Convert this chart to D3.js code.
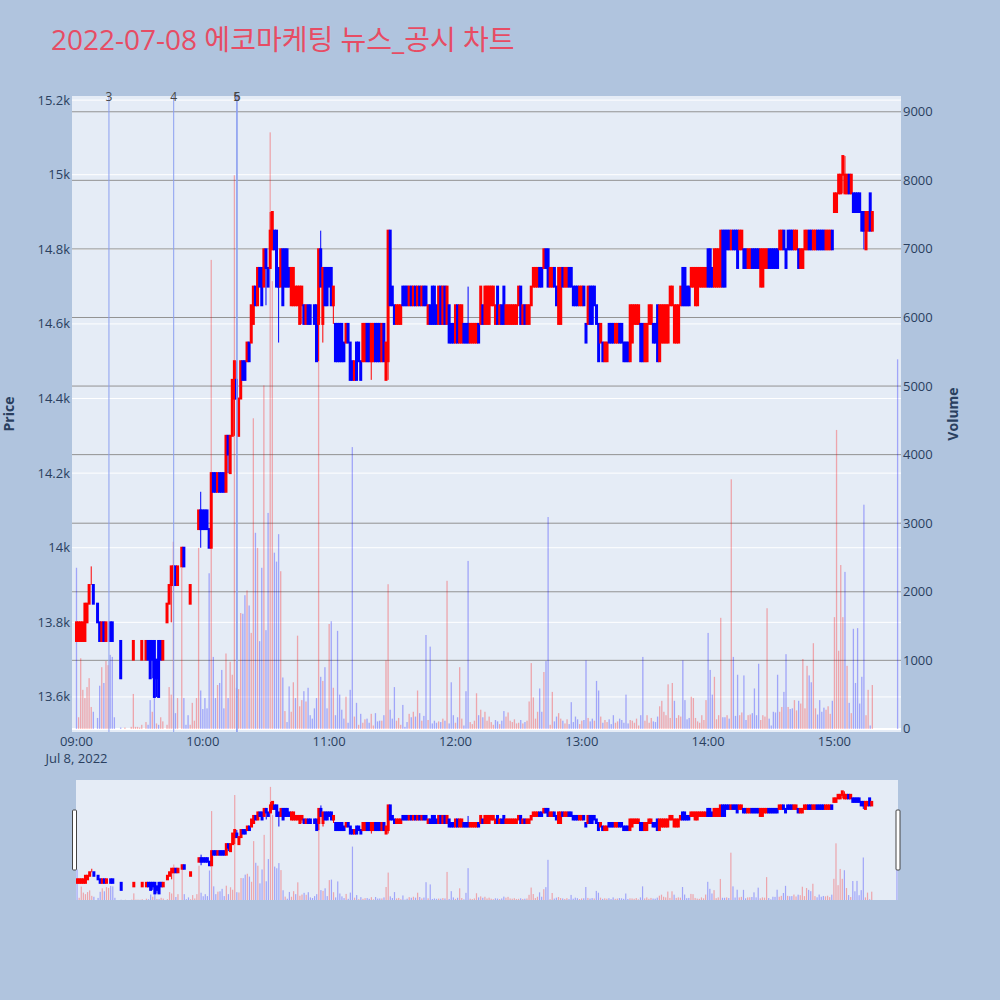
<!DOCTYPE html>
<html>
<head>
<meta charset="utf-8">
<title>2022-07-08 에코마케팅 뉴스_공시 차트</title>
<script src="https://d3js.org/d3.v7.min.js"></script>
<style>
body { margin: 0; background: #b0c4de; }
svg text { font-family: "Open Sans", "Noto Sans CJK KR", sans-serif; fill: #2a3f5f; }
</style>
</head>
<body>
<script>

var tradeDate = "2022-07-08";
var chartTitle = "2022-07-08 에코마케팅 뉴스_공시 차트";

// minutes after 09:00 that have a 1-minute candle
var minutes = [
  0,1,2,3,4,5,6,7,8,
  10,11,12,13,14,15,16,17,18,
  21,23,
  26,27,28,29,30,31,
  33,34,35,36,37,38,39,40,41,
  43,44,45,46,47,48,
  50,51,52,53,54,55,56,57,58,59,
  60,61,62,63,64,65,66,67,68,69,
  70,71,72,73,74,75,76,77,78,79,
  80,81,82,83,84,85,86,87,88,89,
  90,91,92,93,94,95,96,97,98,99,
  100,101,102,103,104,105,106,107,108,109,
  110,111,112,113,114,115,116,117,118,119,
  120,121,122,123,124,125,126,127,128,129,
  130,131,132,133,134,135,136,137,138,139,
  140,141,142,143,144,145,146,147,148,149,
  150,151,152,153,154,155,156,157,158,159,
  160,161,162,163,164,165,166,167,168,169,
  170,171,172,173,174,175,176,177,178,179,
  180,181,182,183,184,185,186,187,188,189,
  190,191,192,193,194,195,196,197,198,199,
  200,201,202,203,204,205,206,207,208,209,
  210,211,212,213,214,215,216,217,218,219,
  220,221,222,223,224,225,226,227,228,229,
  230,231,232,233,234,235,236,237,238,239,
  240,241,242,243,244,245,246,247,248,249,
  250,251,252,253,254,255,256,257,258,259,
  260,261,262,263,264,265,266,267,268,269,
  270,271,272,273,274,275,276,277,278,279,
  280,281,282,283,284,285,286,287,288,289,
  290,291,292,293,294,295,296,297,298,299,
  300,301,302,303,304,305,306,307,308,309,
  310,311,312,313,314,315,316,317,318,319,
  320,321,322,323,324,325,326,327,328,329,
  330,331,332,333,334,335,336,337,338,339,
  340,341,342,343,344,345,346,347,348,349,
  350,351,352,353,354,355,356,357,358,359,
  360,361,362,363,364,365,366,367,368,369,
  370,371,372,373,374,375,376,377,378,
  390
];

var opens = [
  13750,13750,13750,13750,13750,13800,13850,13900,13900,
  13850,13800,13750,13800,13750,13800,13800,13800,13700,
  13750,13750,
  13750,13700,13750,13750,13750,13700,
  13700,13750,13750,13750,13750,13700,13750,13750,13700,
  13800,13850,13900,13900,13950,13900,
  13950,14000,13950,13900,13850,13900,13950,14000,14050,14100,
  14100,14100,14100,14050,14000,14200,14200,14150,14200,14200,
  14200,14150,14300,14200,14300,14400,14450,14300,14400,14500,
  14500,14500,14550,14550,14600,14700,14650,14750,14750,14700,
  14800,14750,14750,14800,14850,14850,14750,14700,14800,14800,
  14800,14750,14650,14650,14650,14650,14600,14650,14650,14600,
  14650,14650,14600,14650,14650,14600,14800,14600,14750,14750,
  14750,14750,14650,14600,14600,14600,14600,14550,14550,14600,
  14550,14500,14450,14550,14550,14500,14500,14500,14600,14600,
  14500,14500,14600,14600,14600,14500,14600,14450,14500,14850,
  14700,14650,14600,14600,14600,14700,14700,14700,14650,14700,
  14650,14700,14650,14700,14650,14700,14700,14600,14650,14700,
  14700,14650,14600,14700,14600,14700,14600,14650,14600,14600,
  14550,14650,14550,14550,14600,14600,14600,14550,14550,14550,
  14550,14600,14600,14650,14600,14600,14600,14650,14650,14600,
  14700,14600,14650,14700,14600,14600,14600,14600,14600,14600,
  14650,14700,14600,14650,14600,14600,14650,14700,14700,14700,
  14750,14750,14750,14800,14800,14700,14700,14750,14700,14600,
  14600,14750,14700,14700,14750,14750,14700,14700,14700,14650,
  14650,14700,14600,14600,14700,14700,14700,14650,14600,14550,
  14550,14500,14500,14600,14600,14600,14550,14550,14600,14600,
  14550,14550,14550,14500,14550,14600,14600,14600,14600,14600,
  14500,14500,14600,14600,14600,14600,14650,14500,14550,14550,
  14550,14550,14650,14650,14550,14550,14550,14650,14750,14750,
  14700,14700,14700,14700,14650,14650,14700,14700,14700,14700,
  14800,14800,14750,14700,14700,14700,14700,14850,14850,14850,
  14850,14800,14850,14850,14850,14800,14800,14800,14800,14750,
  14750,14800,14800,14800,14800,14700,14700,14750,14750,14800,
  14800,14800,14800,14800,14800,14800,14850,14800,14850,14850,
  14850,14800,14800,14800,14750,14750,14800,14800,14850,14850,
  14800,14800,14850,14850,14850,14850,14800,14800,14800,14850,
  14900,14900,14950,14950,15000,14950,14950,15000,14950,14950,
  14950,14950,14950,14900,14900,14800,14850,14950,14850,
  14800
];

var highs = [
  13800,13800,13800,13800,13850,13850,13900,13950,13900,
  13850,13800,13800,13800,13800,13800,13800,13800,13700,
  13750,13750,
  13750,13750,13750,13750,13750,13750,
  13750,13750,13750,13750,13750,13700,13750,13750,13750,
  13850,13900,13950,13950,13950,13950,
  14000,14000,13950,13900,13900,13900,13950,14000,14100,14150,
  14100,14100,14100,14050,14200,14200,14200,14200,14200,14200,
  14200,14300,14300,14300,14450,14500,14500,14400,14500,14500,
  14500,14550,14550,14650,14700,14700,14750,14750,14750,14800,
  14800,14750,14900,14900,14850,14850,14750,14800,14800,14800,
  14800,14750,14750,14750,14700,14700,14700,14700,14650,14650,
  14650,14650,14600,14650,14650,14800,14850,14750,14750,14750,
  14750,14750,14700,14600,14600,14600,14600,14550,14600,14600,
  14550,14500,14500,14550,14550,14500,14600,14600,14600,14600,
  14600,14600,14600,14600,14600,14600,14600,14550,14850,14850,
  14700,14650,14650,14650,14650,14700,14700,14700,14700,14700,
  14700,14700,14700,14700,14700,14700,14700,14650,14650,14700,
  14700,14650,14700,14700,14700,14700,14700,14650,14600,14600,
  14650,14650,14650,14650,14600,14600,14700,14600,14600,14600,
  14600,14600,14700,14650,14700,14700,14700,14700,14700,14650,
  14700,14650,14650,14700,14650,14650,14650,14650,14650,14650,
  14700,14700,14650,14650,14650,14650,14700,14750,14750,14750,
  14750,14750,14800,14800,14800,14750,14750,14750,14700,14750,
  14750,14750,14750,14750,14750,14750,14700,14700,14700,14700,
  14700,14700,14600,14700,14700,14700,14700,14650,14600,14600,
  14550,14550,14550,14600,14600,14600,14600,14600,14600,14600,
  14550,14550,14550,14650,14650,14650,14650,14650,14600,14600,
  14600,14600,14650,14650,14600,14600,14650,14650,14650,14650,
  14650,14650,14700,14700,14650,14650,14650,14700,14750,14750,
  14700,14700,14750,14750,14750,14750,14750,14750,14750,14750,
  14800,14800,14750,14800,14800,14800,14850,14850,14850,14850,
  14850,14850,14850,14850,14850,14850,14850,14800,14800,14800,
  14800,14800,14800,14800,14800,14800,14800,14800,14800,14800,
  14800,14800,14800,14800,14850,14850,14850,14800,14850,14850,
  14850,14850,14850,14800,14800,14800,14850,14850,14850,14850,
  14850,14850,14850,14850,14850,14850,14850,14850,14850,14850,
  14950,14950,15000,15000,15050,15050,15000,15000,15000,14950,
  14950,14950,14950,14900,14900,14900,14900,14950,14900,
  14800
];

var lows = [
  13750,13750,13750,13750,13750,13800,13850,13900,13850,
  13800,13750,13750,13750,13750,13800,13750,13750,13700,
  13650,13750,
  13750,13700,13750,13750,13750,13700,
  13700,13700,13650,13650,13600,13600,13600,13700,13700,
  13800,13850,13800,13900,13900,13900,
  13950,13950,13950,13900,13850,13900,13950,14000,14050,14000,
  14050,14050,14050,14000,14000,14150,14150,14150,14150,14150,
  14150,14150,14200,14200,14300,14300,14400,14300,14400,14450,
  14450,14500,14500,14550,14600,14650,14650,14700,14650,14700,
  14650,14700,14750,14800,14800,14700,14550,14700,14650,14700,
  14700,14700,14650,14650,14650,14650,14600,14600,14600,14600,
  14600,14600,14600,14600,14500,14500,14700,14550,14650,14650,
  14700,14650,14600,14500,14500,14500,14500,14500,14550,14550,
  14450,14450,14450,14450,14500,14450,14500,14500,14500,14500,
  14450,14500,14500,14500,14500,14500,14500,14450,14450,14650,
  14650,14600,14600,14600,14600,14650,14650,14650,14650,14650,
  14650,14650,14650,14650,14650,14650,14650,14600,14600,14600,
  14600,14600,14600,14600,14600,14600,14600,14550,14550,14550,
  14550,14550,14550,14550,14550,14550,14550,14550,14550,14550,
  14550,14550,14600,14600,14600,14600,14600,14650,14650,14600,
  14600,14600,14600,14600,14600,14600,14600,14600,14600,14600,
  14650,14600,14600,14600,14600,14600,14650,14700,14700,14700,
  14700,14700,14750,14750,14700,14700,14700,14700,14650,14600,
  14600,14700,14700,14700,14700,14700,14650,14650,14650,14650,
  14650,14650,14550,14600,14600,14600,14650,14600,14500,14550,
  14500,14500,14500,14550,14550,14550,14550,14550,14550,14550,
  14500,14500,14500,14500,14550,14600,14600,14600,14500,14500,
  14500,14500,14600,14600,14550,14550,14500,14500,14550,14550,
  14550,14550,14650,14650,14550,14550,14550,14650,14650,14650,
  14650,14650,14700,14700,14650,14650,14700,14700,14700,14700,
  14700,14700,14700,14700,14700,14700,14700,14700,14700,14800,
  14800,14800,14800,14800,14750,14800,14800,14750,14750,14750,
  14750,14750,14750,14750,14750,14700,14700,14750,14750,14750,
  14750,14750,14750,14750,14800,14800,14800,14750,14800,14800,
  14800,14800,14800,14750,14750,14750,14800,14800,14800,14800,
  14800,14800,14800,14800,14800,14800,14800,14800,14800,14800,
  14900,14900,14950,14950,14950,14950,14950,14950,14950,14900,
  14900,14900,14900,14850,14800,14800,14850,14850,14850,
  14800
];

var closes = [
  13800,13800,13800,13800,13850,13850,13900,13900,13850,
  13800,13750,13800,13750,13800,13800,13750,13750,13700,
  13650,13750,
  13750,13750,13750,13750,13750,13750,
  13750,13700,13650,13700,13600,13650,13600,13700,13750,
  13850,13900,13950,13950,13900,13950,
  14000,13950,13950,13900,13900,13900,13950,14000,14100,14050,
  14050,14050,14050,14000,14200,14150,14150,14200,14150,14150,
  14150,14300,14250,14300,14450,14500,14400,14400,14500,14450,
  14450,14550,14500,14650,14700,14650,14750,14700,14650,14800,
  14750,14700,14850,14900,14800,14700,14700,14800,14650,14700,
  14700,14700,14750,14750,14700,14700,14700,14700,14600,14650,
  14600,14600,14600,14600,14500,14800,14700,14750,14650,14650,
  14700,14650,14700,14500,14500,14500,14500,14500,14600,14550,
  14450,14450,14500,14450,14500,14450,14600,14600,14500,14500,
  14600,14600,14500,14500,14500,14600,14500,14550,14850,14650,
  14650,14600,14650,14650,14650,14650,14650,14650,14700,14650,
  14700,14650,14700,14650,14700,14650,14650,14650,14600,14600,
  14600,14600,14700,14600,14700,14600,14700,14550,14550,14550,
  14650,14550,14650,14650,14550,14550,14550,14600,14600,14600,
  14600,14550,14700,14600,14700,14700,14700,14700,14700,14650,
  14600,14650,14600,14600,14650,14650,14650,14650,14650,14650,
  14700,14600,14650,14600,14650,14650,14700,14750,14750,14750,
  14700,14700,14800,14750,14700,14750,14750,14700,14650,14750,
  14750,14700,14750,14750,14700,14700,14650,14650,14650,14700,
  14700,14650,14550,14700,14600,14600,14650,14600,14500,14600,
  14500,14550,14550,14550,14550,14550,14600,14600,14550,14550,
  14500,14500,14500,14650,14650,14650,14650,14650,14500,14500,
  14600,14600,14650,14650,14550,14550,14500,14650,14650,14650,
  14650,14650,14700,14700,14650,14650,14650,14700,14650,14650,
  14650,14650,14750,14750,14750,14750,14750,14750,14750,14750,
  14700,14700,14700,14800,14800,14800,14850,14700,14700,14800,
  14800,14850,14800,14800,14750,14850,14850,14750,14750,14800,
  14800,14750,14750,14750,14750,14800,14800,14800,14800,14750,
  14750,14750,14750,14750,14850,14850,14800,14750,14800,14800,
  14800,14850,14850,14750,14800,14800,14850,14850,14800,14800,
  14850,14850,14800,14800,14800,14800,14850,14850,14850,14800,
  14950,14950,15000,15000,15050,15000,15000,14950,15000,14900,
  14900,14900,14900,14850,14850,14900,14900,14850,14900,
  14800
];

var volumes = [
  2350,170,1030,570,450,610,740,320,250,
  160,630,900,670,990,930,1080,1050,170,
  20,20,
  30,510,30,30,20,60,
  100,60,420,250,450,80,60,170,110,
  60,610,500,2730,230,450,
  2350,450,60,200,60,380,120,450,2640,560,
  290,450,300,2270,6840,1050,450,640,670,860,
  300,1100,450,980,790,8075,600,580,1690,1680,
  1950,2020,1800,1400,4530,2860,2640,1280,2350,5010,
  1440,3150,8700,6530,2570,2440,2840,2300,750,260,
  100,620,250,680,450,1360,330,420,550,400,
  600,200,150,300,450,6250,760,700,900,300,
  1530,1570,600,200,1430,500,280,150,470,90,
  570,4110,180,380,60,220,90,140,150,90,
  220,50,230,110,120,120,200,1000,2110,280,
  150,610,120,160,60,350,30,100,220,170,
  250,180,560,230,120,190,1370,130,1200,80,
  120,90,110,100,150,120,2160,80,680,200,
  90,170,900,150,50,550,2450,100,70,120,
  520,200,280,170,250,120,180,100,60,130,
  110,70,120,260,180,240,120,100,140,80,
  90,130,80,100,120,400,960,460,150,250,
  590,250,830,990,3090,60,540,110,180,230,
  150,120,80,140,70,390,100,180,140,70,
  120,130,1000,160,110,150,120,700,560,180,
  90,130,100,140,70,200,90,110,150,130,
  90,500,80,130,120,90,150,50,200,1050,
  120,200,90,160,110,100,180,330,410,250,
  200,650,160,670,410,160,200,180,1000,420,
  140,160,470,450,160,110,90,200,130,420,
  1400,860,500,760,140,200,1620,170,170,200,
  150,3640,1050,190,790,200,240,780,130,200,
  210,230,590,200,950,130,200,180,1760,150,
  50,250,240,790,250,320,540,1090,320,290,
  300,420,270,410,370,1020,300,920,780,680,
  1250,300,210,420,250,310,280,330,220,410,
  1630,4360,1140,2390,1630,2290,920,380,230,1460,
  670,1470,370,760,3270,200,570,50,640,
  5390
];

// news / disclosure markers
var newsTimes = ["09:15:25", "09:46:10", "10:16:05", "10:16:20"];
var newsLabels = ["3", "4", "5", "6"];

var priceTicks = [13600, 13800, 14000, 14200, 14400, 14600, 14800, 15000, 15200];
var volumeTicks = [0, 1000, 2000, 3000, 4000, 5000, 6000, 7000, 8000, 9000];
var hourTicks = ["09:00", "10:00", "11:00", "12:00", "13:00", "14:00", "15:00"];

var width = 1000, height = 1000;
var plotL = 72, plotR = 901, plotT = 96, plotB = 732;
var sliderL = 76, sliderR = 898, sliderT = 780, sliderB = 900;
var upColor = "#ff0000", downColor = "#0000ff";

var parseClock = d3.timeParse("%Y-%m-%d %H:%M:%S");
function at(clock) { return parseClock(tradeDate + " " + clock); }
var open0900 = at("09:00:00");

var rows = minutes.map(function(m, i) {
  return { t: d3.timeMinute.offset(open0900, m), o: opens[i], h: highs[i], l: lows[i], c: closes[i], v: volumes[i] };
});
rows.forEach(function(d, i) {
  var prev = rows[i - 1];
  if (d.c > d.o) d.up = true;
  else if (d.c < d.o) d.up = false;
  else d.up = prev ? (d.c === prev.c ? prev.up : d.c > prev.c) : true;
  // volume colour follows the change against the previous close
  d.volUp = prev ? (d.c === prev.c ? d.up : d.c > prev.c) : false;
});

var x = d3.scaleTime().domain([at("08:57:52"), at("15:31:37")]).range([plotL, plotR]);
var yPrice = d3.scaleLinear().domain([13506, 15211]).range([plotB, plotT]);
var yVol = d3.scaleLinear().domain([-45, 9230]).range([plotB, plotT]);

var xs = d3.scaleTime().domain([at("08:59:30"), at("15:30:30")]).range([sliderL, sliderR]);
var ysPrice = d3.scaleLinear().domain(yPrice.domain()).range([sliderB, sliderT]);
var ysVol = d3.scaleLinear().domain([0, 9230]).range([sliderB, sliderT]);

var svg = d3.select("body").append("svg")
    .attr("width", width)
    .attr("height", height);

svg.append("rect").attr("width", width).attr("height", height).attr("fill", "#b0c4de");

var defs = svg.append("defs");
defs.append("clipPath").attr("id", "clipMain").append("rect")
    .attr("x", plotL).attr("y", plotT).attr("width", plotR - plotL).attr("height", plotB - plotT);
defs.append("clipPath").attr("id", "clipSlider").append("rect")
    .attr("x", sliderL).attr("y", sliderT).attr("width", sliderR - sliderL).attr("height", sliderB - sliderT);

// plot background
svg.append("rect").attr("x", plotL).attr("y", plotT)
    .attr("width", plotR - plotL).attr("height", plotB - plotT)
    .attr("fill", "#e5ecf6");

// price grid (white)
svg.append("g").selectAll("line").data(priceTicks).join("line")
    .attr("x1", plotL).attr("x2", plotR)
    .attr("y1", function(d) { return yPrice(d); }).attr("y2", function(d) { return yPrice(d); })
    .attr("stroke", "#ffffff").attr("stroke-width", 1);

// volume grid (grey)
svg.append("g").selectAll("line").data(volumeTicks.filter(function(d) { return d > 0; })).join("line")
    .attr("x1", plotL).attr("x2", plotR)
    .attr("y1", function(d) { return yVol(d); }).attr("y2", function(d) { return yVol(d); })
    .attr("stroke", "#929292").attr("stroke-width", 1);

svg.append("line")
    .attr("x1", plotL).attr("x2", plotR)
    .attr("y1", yVol(0)).attr("y2", yVol(0))
    .attr("stroke", "#ffffff").attr("stroke-width", 2);

function drawPanel(g, sx, sp, sv, opt) {
  g.append("g").selectAll("rect").data(rows).join("rect")
      .attr("x", function(d) { return sx(d.t) - opt.barW / 2; })
      .attr("width", opt.barW)
      .attr("y", function(d) { return sv(d.v); })
      .attr("height", function(d) { return sv(0) - sv(d.v); })
      .attr("fill", function(d) { return d.volUp ? upColor : downColor; })
      .attr("fill-opacity", 0.3);

  var c = g.append("g").selectAll("g").data(rows).join("g")
      .attr("stroke", function(d) { return d.up ? upColor : downColor; })
      .attr("fill", function(d) { return d.up ? upColor : downColor; });
  c.append("line")
      .attr("x1", function(d) { return sx(d.t); })
      .attr("x2", function(d) { return sx(d.t); })
      .attr("y1", function(d) { return sp(d.h); })
      .attr("y2", function(d) { return sp(d.l); })
      .attr("stroke-width", opt.wick);
  c.append("rect")
      .attr("x", function(d) { return sx(d.t) - opt.bodyW / 2; })
      .attr("width", opt.bodyW)
      .attr("y", function(d) { return sp(Math.max(d.o, d.c)); })
      .attr("height", function(d) { return Math.abs(sp(d.o) - sp(d.c)); })
      .attr("stroke-width", opt.line);
}

drawPanel(svg.append("g").attr("clip-path", "url(#clipMain)"), x, yPrice, yVol,
    { barW: 1.3, bodyW: 1.0, wick: 1, line: 2 });

// news markers
var news = svg.append("g");
news.selectAll("line").data(newsTimes).join("line")
    .attr("x1", function(d) { return x(at(d)); })
    .attr("x2", function(d) { return x(at(d)); })
    .attr("y1", plotT).attr("y2", plotB)
    .attr("stroke", "#8c9ff0").attr("stroke-width", 1);
news.selectAll("text").data(newsTimes).join("text")
    .attr("x", function(d) { return x(at(d)); })
    .attr("y", 100.5)
    .attr("text-anchor", "middle")
    .style("font-size", "12px")
    .style("fill", "#444")
    .text(function(d, i) { return newsLabels[i]; });

// axes
var fmtK = d3.format("~s");
svg.append("g").selectAll("text").data(priceTicks).join("text")
    .attr("x", 70).attr("y", function(d) { return yPrice(d) + 4.5; })
    .attr("text-anchor", "end")
    .style("font-size", "13px")
    .text(function(d) { return fmtK(d); });

svg.append("g").selectAll("text").data(volumeTicks).join("text")
    .attr("x", 903).attr("y", function(d) { return yVol(d) + 4.5; })
    .style("font-size", "13px")
    .text(function(d) { return d; });

svg.append("g").selectAll("text").data(hourTicks).join("text")
    .attr("x", function(d) { return x(at(d + ":00")); })
    .attr("y", 746)
    .attr("text-anchor", "middle")
    .style("font-size", "13px")
    .text(function(d) { return d; });

svg.append("text")
    .attr("x", x(at("09:00:00"))).attr("y", 763)
    .attr("text-anchor", "middle")
    .style("font-size", "13px")
    .text(d3.timeFormat("%b %-d, %Y")(open0900));

svg.append("text")
    .attr("transform", "translate(14,414) rotate(-90)")
    .attr("text-anchor", "middle")
    .style("font-size", "14px").style("font-weight", "bold")
    .text("Price");

svg.append("text")
    .attr("transform", "translate(958,414) rotate(-90)")
    .attr("text-anchor", "middle")
    .style("font-size", "14px").style("font-weight", "bold")
    .text("Volume");

// title
svg.append("text")
    .attr("x", 51).attr("y", 50)
    .style("font-size", "28px")
    .style("fill", "#e74c64")
    .text(chartTitle);

// range slider
svg.append("rect")
    .attr("x", sliderL).attr("y", sliderT)
    .attr("width", sliderR - sliderL).attr("height", sliderB - sliderT)
    .attr("fill", "#e5ecf6");

drawPanel(svg.append("g").attr("clip-path", "url(#clipSlider)"), xs, ysPrice, ysVol,
    { barW: 1.2, bodyW: 1.0, wick: 1, line: 2 });

svg.append("rect")
    .attr("x", 72.5).attr("y", 810).attr("width", 4).attr("height", 60)
    .attr("rx", 1)
    .attr("fill", "#fff").attr("stroke", "#444").attr("stroke-width", 1);
svg.append("rect")
    .attr("x", 896).attr("y", 810).attr("width", 4).attr("height", 60)
    .attr("rx", 1)
    .attr("fill", "#fff").attr("stroke", "#444").attr("stroke-width", 1);

</script>
</body>
</html>
